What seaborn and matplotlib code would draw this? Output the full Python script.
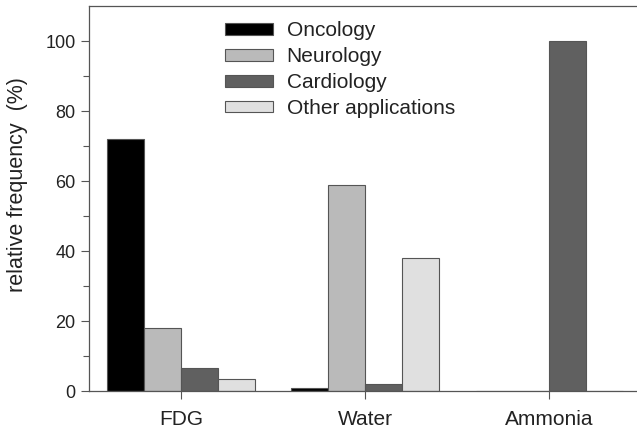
import matplotlib
matplotlib.use("Agg")
import matplotlib.pyplot as plt
import seaborn as sns
import pandas as pd

tracers = ["FDG", "Water", "Ammonia"]
applications = ["Oncology", "Neurology", "Cardiology", "Other applications"]
oncology = [72, 1, 0]
neurology = [18, 59, 0]
cardiology = [6.5, 2, 100]
other = [3.5, 38, 0]
colors = ["#000000", "#bababa", "#606060", "#e0e0e0"]

rows = []
for app, vals in zip(applications, [oncology, neurology, cardiology, other]):
    for t, v in zip(tracers, vals):
        rows.append({"tracer": t, "app": app, "freq": v})
df = pd.DataFrame(rows)

sns.set_style("ticks")
plt.rcParams["font.family"] = ["Liberation Sans", "DejaVu Sans"]

fig = plt.figure(figsize=(6.37, 4.34), dpi=100)
ax = fig.add_axes([88.6 / 637, 43 / 434, 553 / 637, 385 / 434])

sns.barplot(data=df, x="tracer", y="freq", hue="app", order=tracers,
            hue_order=applications, palette=colors, width=0.8,
            edgecolor="#555555", linewidth=0.8, ax=ax, errorbar=None)

ax.set_xlim(-0.5, 2.5)
ax.set_ylim(0, 110)
ax.set_yticks([0, 20, 40, 60, 80, 100])
ax.set_yticks([10, 30, 50, 70, 90], minor=True)
ax.tick_params(axis="y", which="major", labelsize=13, length=6, width=0.8,
               color="#555555", labelcolor="#222222")
ax.tick_params(axis="y", which="minor", length=4, width=0.8, color="#555555")
ax.tick_params(axis="x", labelsize=15, length=6, width=0.8, color="#555555",
               labelcolor="#222222", pad=8)
ax.set_xlabel("")
ax.set_ylabel("relative frequency  (%)", fontsize=15.5, color="#222222")
ax.yaxis.set_label_coords(-0.11, 0.535)
for s in ["left", "bottom", "top"]:
    ax.spines[s].set_visible(True)
    ax.spines[s].set_color("#555555")
    ax.spines[s].set_linewidth(0.9)
ax.spines["right"].set_visible(False)

handles, labels = ax.get_legend_handles_labels()
ax.legend(handles, labels, loc="upper left", bbox_to_anchor=(0.247, 0.96),
          frameon=False, fontsize=15, handlelength=2.3, handleheight=0.48,
          handletextpad=0.65, labelspacing=0.33, borderaxespad=0, borderpad=0,
          labelcolor="#222222")

fig.savefig("out.png", dpi=100)
